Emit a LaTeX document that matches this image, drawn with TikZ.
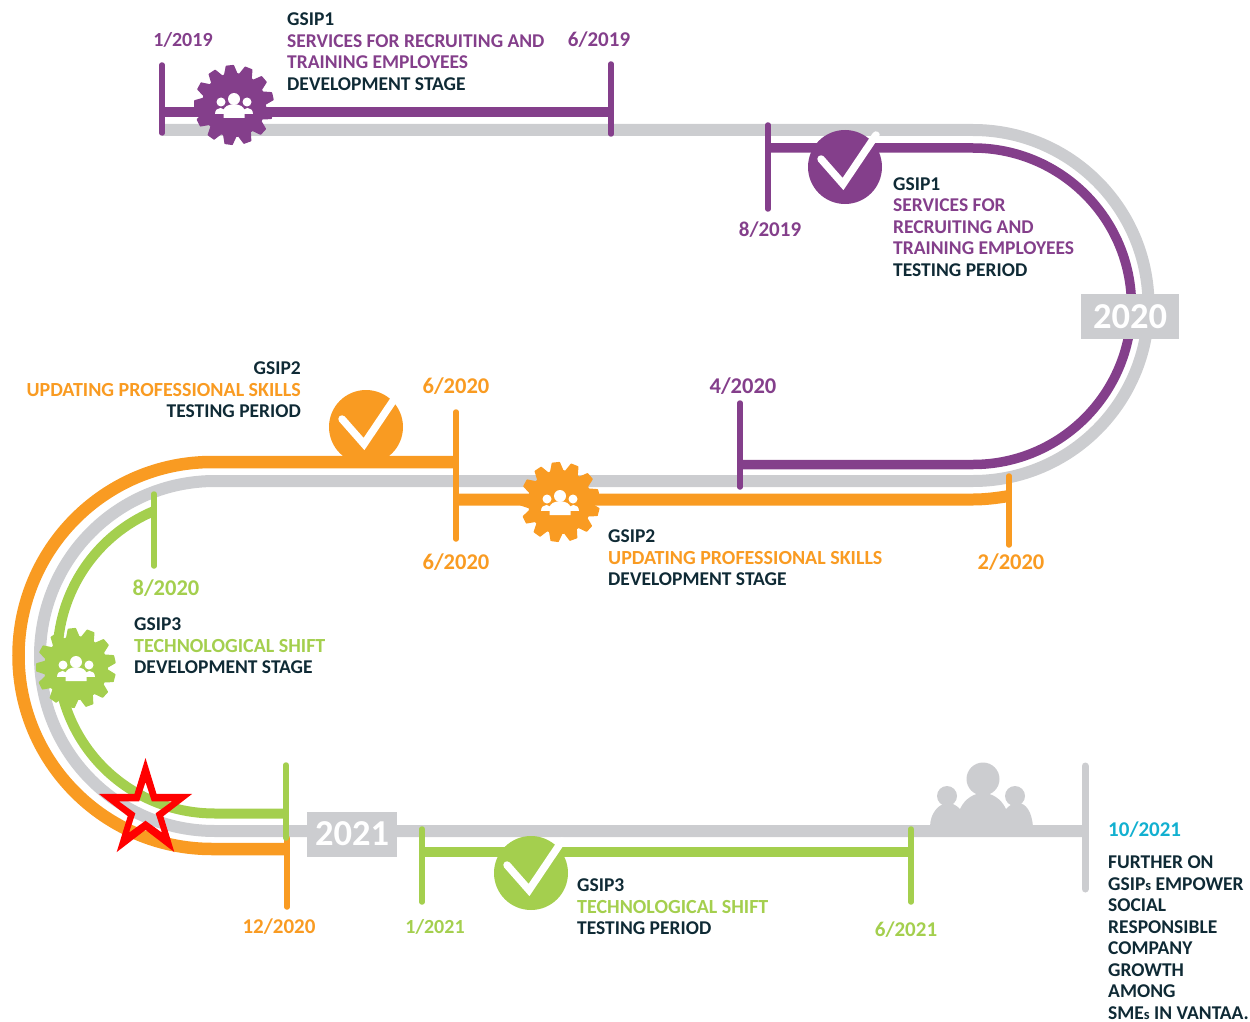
\documentclass[tikz,border=0pt]{standalone}
\usepackage{fontspec}
\setmainfont{Carlito}[BoldFont=Carlito Bold]
\definecolor{cpurple}{HTML}{843F8B}
\definecolor{corange}{HTML}{F99B22}
\definecolor{cgreen}{HTML}{A4CF4E}
\definecolor{cgray}{HTML}{CCCDD0}
\definecolor{cdark}{HTML}{0F2A35}
\definecolor{ccyan}{HTML}{12B0D0}
\newcommand{\wider}{\fontsize{20}{21.5}\selectfont}
\tikzset{
  road/.style={line width=12pt,draw=cgray,line cap=butt},
  band/.style={line width=10pt,line cap=butt},
  tick/.style={line width=5.5pt,line cap=round},
  txt/.style={font=\fontsize{19.5}{21.5}\selectfont\bfseries,inner sep=0pt,align=left,anchor=north west,text=cdark},
  txtr/.style={font=\fontsize{19.5}{21.5}\selectfont\bfseries,inner sep=0pt,align=right,anchor=north east,text=cdark},
  datel/.style={font=\fontsize{21}{22}\selectfont\bfseries,inner sep=0pt,anchor=center},
  datem/.style={font=\fontsize{22.5}{23}\selectfont\bfseries,inner sep=0pt,anchor=center},
  dates/.style={font=\fontsize{20}{21}\selectfont\bfseries,inner sep=0pt,anchor=center},
  yearl/.style={font=\fontsize{36.5}{38}\selectfont\bfseries,text=white,fill=cgray,inner sep=0pt,minimum height=45pt,anchor=center},
  chk/.style={draw=white,line width=7.5pt,line cap=round,line join=miter}
}
\newcommand{\gearmark}[3]{%
  \begin{scope}[shift={(#1,#2)}]
    \fill[#3] (0,0) circle[radius=32pt];
    \foreach \i in {0,...,12}{\fill[#3,draw=#3,line width=1.5pt,line join=round,rotate=\i*360/13+6] (-6,-31)--(-3.5,-39.2)--(3.5,-39.2)--(6,-31)--cycle;}
    \fill[white] (0,-6) circle[radius=6pt] (-13,-3) circle[radius=4.5pt] (13,-3) circle[radius=4.5pt];
    \fill[white] (-19,9) .. controls (-19,1) and (-8,1) .. (-8,9) -- cycle;
    \fill[white] (19,9) .. controls (19,1) and (8,1) .. (8,9) -- cycle;
    \fill[white] (-10.5,13) -- (-10.5,6) .. controls (-10.5,-3) and (10.5,-3) .. (10.5,6) -- (10.5,13) -- cycle;
  \end{scope}}
\newcommand{\checkmark}[3]{%
  \fill[#3] (#1,#2) circle[radius=37pt];
  \draw[chk] ({#1-24},{#2-8}) -- ({#1-2},{#2+17}) -- ({#1+31},{#2-32});}
\begin{document}
\begin{tikzpicture}[x=1pt,y=-1pt]
\useasboundingbox (0,0) rectangle (1250,1022);
% grey road
\draw[road] (162,130) -- (973,130) .. controls (1070,130) and (1148.5,208.5) .. (1148.5,305.5)
  .. controls (1148.5,402.5) and (1070,481) .. (973,481) -- (215,481)
  .. controls (118,481) and (40,559) .. (40,656) .. controls (40,753) and (118,831) .. (215,831) -- (1085,831);
\draw[tick,cgray,line width=7pt] (1085,766) -- (1085,889);
% grey people
\fill[cgray] (983,779) circle[radius=16.5pt] (947,796) circle[radius=10pt] (1015,796) circle[radius=10pt];
\fill[cgray] (930,827) .. controls (930,812) and (940,803) .. (948,803) .. controls (953,803) and (957,806) .. (960,809)
  .. controls (965,798) and (975,793) .. (983,793) .. controls (991,793) and (1001,798) .. (1006,809)
  .. controls (1009,806) and (1012,803) .. (1018,803) .. controls (1026,803) and (1032,812) .. (1033,827) -- cycle;
% purple
\draw[band,cpurple] (162,112) -- (611,112);
\draw[tick,cpurple] (162,65) -- (162,133);
\draw[tick,cpurple] (611,64) -- (611,134);
\draw[band,cpurple,line width=9.5pt] (768,148) -- (973,148) .. controls (1060.5,148) and (1131.5,218.5) .. (1131.5,306)
  .. controls (1131.5,393.5) and (1060.5,464.5) .. (973,464.5) -- (740,464.5);
\draw[tick,cpurple] (768,125) -- (768,209);
\draw[tick,cpurple] (740,403) -- (740,487);
% orange
\draw[band,corange,line width=12pt] (456,499.5) -- (973,499.5) .. controls (985,499.5) and (997,498) .. (1009,496);
\draw[tick,corange] (1009,476) -- (1009,545);
\draw[tick,corange] (456,412) -- (456,539);
\draw[band,corange,line width=12.5pt] (456,462) -- (212,462) .. controls (105,462) and (18.5,549) .. (18.5,655.5)
  .. controls (18.5,762) and (105,849) .. (212,849) -- (287,849);
\draw[tick,corange] (287,838) -- (287,907);
% green
\draw[band,cgreen] (154,511) .. controls (95.5,535.5) and (57.5,592.6) .. (57.5,656)
  .. controls (57.5,743) and (127,813.5) .. (215,813.5) -- (286,813.5);
\draw[tick,cgreen] (154,494) -- (154,566);
\draw[tick,cgreen] (286,765) -- (286,838);
\draw[band,cgreen] (422,852) -- (911,852);
\draw[tick,cgreen] (422,829) -- (422,902);
\draw[tick,cgreen] (911,829) -- (911,902);
% marks
\gearmark{234}{105}{cpurple}
\gearmark{560}{502}{corange}
\gearmark{76}{668}{cgreen}
\checkmark{845}{167}{cpurple}
\checkmark{366}{427}{corange}
\checkmark{531}{873}{cgreen}
% year boxes
\node[yearl,minimum width=98pt] (y2020) at (1130,316.5) {2020};
\node[yearl,minimum width=90pt] (y2021) at (352,834) {2021};
% star
\fill[red,even odd rule]
  plot[samples at={0,...,9},variable=\t] ({145.5+(mod(\t,2)==0?49:18.7)*sin(36*\t)},{810-(mod(\t,2)==0?52:19.9)*cos(36*\t)}) -- cycle
  plot[samples at={0,...,9},variable=\t] ({145.5+(mod(\t,2)==0?28:10.7)*sin(36*\t)},{810-(mod(\t,2)==0?28:10.7)*cos(36*\t)}) -- cycle;
% dates
\node[dates,text=cpurple] (d1) at (183,39.5) {1/2019};
\node[datel,text=cpurple] (d2) at (599,39.5) {6/2019};
\node[datel,text=cpurple] (d3) at (770,229.5) {8/2019};
\node[datem,text=cpurple] (d4) at (743,386) {4/2020};
\node[datem,text=corange] (d5) at (456,386) {6/2020};
\node[datem,text=corange] (d6) at (456,562) {6/2020};
\node[datem,text=corange] (d7) at (1011,562) {2/2020};
\node[datel,text=corange] (d8) at (279,926.5) {12/2020};
\node[datem,text=cgreen] (d9) at (166,588) {8/2020};
\node[dates,text=cgreen] (d10) at (435,926.5) {1/2021};
\node[datel,text=cgreen] (d11) at (906,929.5) {6/2021};
\node[datel,text=ccyan,anchor=west] (d12) at (1108,829.5) {10/2021};
% blocks
\node[txt] (t1) at (287,13) {GSIP1\\\textcolor{cpurple}{SERVICES FOR RECRUITING AND}\\\textcolor{cpurple}{TRAINING EMPLOYEES}\\DEVELOPMENT STAGE};
\node[txt] (t2) at (893,177.5) {GSIP1\\\textcolor{cpurple}{SERVICES FOR}\\\textcolor{cpurple}{RECRUITING AND}\\\textcolor{cpurple}{TRAINING EMPLOYEES}\\TESTING PERIOD};
\node[txtr] (t3) at (301,362) {GSIP2\\\textcolor{corange}{\wider UPDATING PROFESSIONAL SKILLS}\\TESTING PERIOD};
\node[txt] (t4) at (608,530) {GSIP2\\\textcolor{corange}{\wider UPDATING PROFESSIONAL SKILLS}\\DEVELOPMENT STAGE};
\node[txt] (t5) at (134,618) {GSIP3\\\textcolor{cgreen}{\wider TECHNOLOGICAL SHIFT}\\DEVELOPMENT STAGE};
\node[txt] (t6) at (577,879) {GSIP3\\\textcolor{cgreen}{\wider TECHNOLOGICAL SHIFT}\\TESTING PERIOD};
\node[txt] (t7) at (1108,856) {FURTHER ON\\GSIP{\fontsize{14.5}{21.5}\selectfont s} EMPOWER\\SOCIAL\\RESPONSIBLE\\COMPANY\\GROWTH\\AMONG\\SME{\fontsize{14.5}{21.5}\selectfont s} IN VANTAA.};
\end{tikzpicture}
\end{document}
